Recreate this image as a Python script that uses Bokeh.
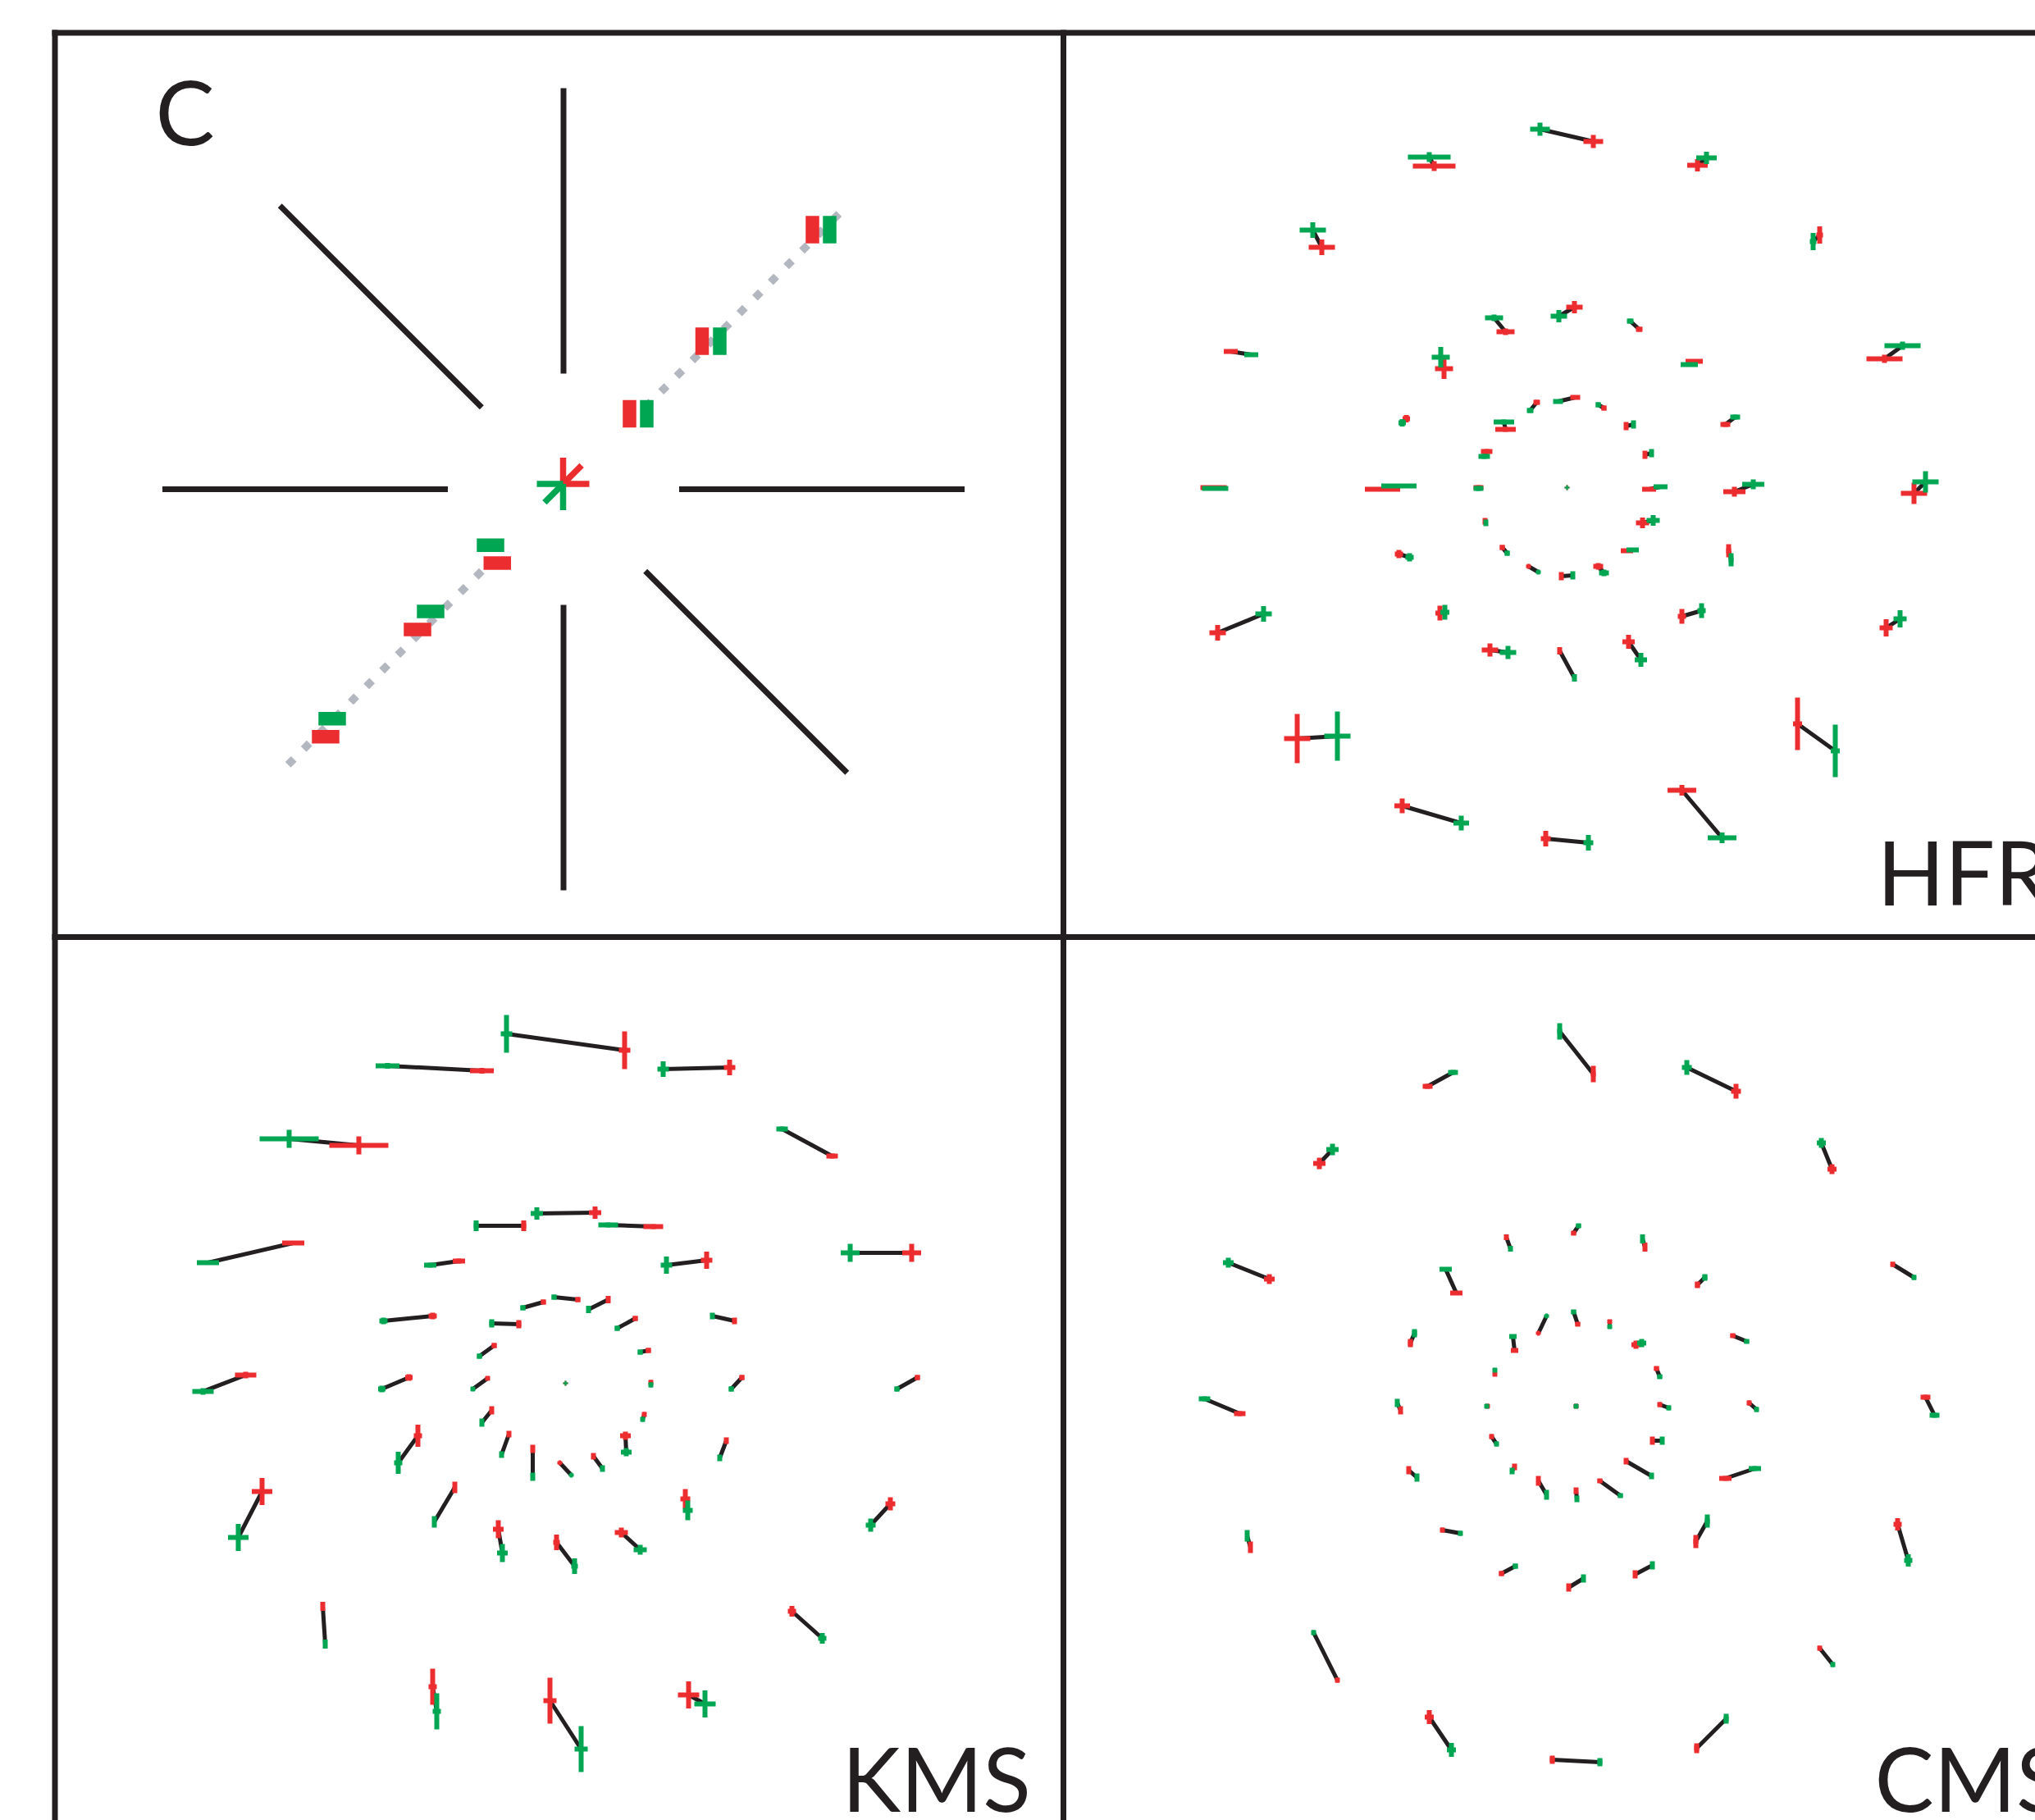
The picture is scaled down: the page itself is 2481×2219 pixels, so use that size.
import numpy as np
from bokeh.plotting import figure
from bokeh.models import Range1d
from bokeh.embed import file_html
from bokeh.resources import INLINE
from bokeh.core.properties import value

# ------------------------------------------------------------------ data
# Field points: offsets of the red and green image centroids from the
# field centre (display px, y pointing down) and the half sizes of the
# error crosses (x, y).
HFR_RED_X = [0, 32, -162, -299, -410, -75, -150, 9, -37, 10, -196, -75, -98, -431, -225, -108, -100, -205, -79, -47,
             -155, -426, -94, -329, -201, -26, 159, 308, 88, 155, 387, 45, 72, 95, 193, 100, 204, 423, 92, 73, 38, -7,
             197, 140, 75, -9, 389, 281, 140]
HFR_RED_Y = [0, -422, -392, -293, -166, -190, -145, -220, -104, -110, -84, -71, -44, 0, 2, 0, 41, 81, 73, 96, 153, 177,
             198, 306, 388, 428, -393, -308, -193, -154, -157, -97, -75, -40, -77, 2, 5, 7, 43, 77, 96, 108, 77, 157,
             188, 199, 171, 288, 369]
HFR_GRN_X = [0, -33, -168, -310, -385, -89, -154, -10, -45, -11, -201, -77, -101, -429, -205, -108, -99, -192, -73,
             -35, -149, -370, -72, -280, -129, 26, 170, 300, 77, 149, 409, 38, 81, 103, 205, 114, 227, 437, 105, 80,
             45, 7, 200, 164, 90, 9, 406, 327, 189]
HFR_GRN_Y = [0, -437, -403, -314, -162, -207, -159, -209, -94, -105, -79, -80, -38, 1, -2, 1, 43, 85, 80, 103, 152,
             154, 201, 303, 409, 433, -402, -300, -203, -150, -173, -101, -77, -42, -86, -1, -4, -7, 40, 76, 104, 107,
             88, 150, 210, 232, 160, 321, 427]
HFR_ERR_X = [1, 12, 26, 16, 8.5, 11, 11, 10, 4, 6, 4.5, 12.5, 7, 16, 21.5, 6, 2.5, 5, 3, 2, 5.5, 10, 10, 16, 9.5, 6,
             12.5, 4, 4, 10.5, 22, 3, 2, 2, 6, 8.5, 13.5, 16, 8, 7.5, 6, 2.5, 3, 5, 7.5, 2, 8, 5.5, 17.5]
HFR_ERR_Y = [1, 8, 6, 9.5, 2.5, 4, 12.5, 7.5, 3, 2.5, 4.5, 3, 3, 2.5, 2.5, 3, 4, 5, 3, 2, 9, 9.5, 8, 30, 9, 9.5, 7.5,
             10.5, 3, 2.5, 5, 3, 5, 5, 3, 2.5, 6, 13, 6.5, 2.5, 4, 5, 8, 9, 8.5, 4.5, 10.5, 32, 6.5]

KMS_RED_X = [0, 72, -102, -252, -332, -51, 36, 107, 172, 422, 325, 200, -130, -162, -57, -27, 15, 52, 85, 206, 101,
             -87, -95, -191, -390, 215, 429, 104, -90, 96, -180, -69, -40, -7, 34, 73, 196, -370, -135, -82, -11, 68,
             146, 396, -296, 276, -162, -19, 150]
KMS_RED_Y = [0, -406, -381, -290, -171, -192, -208, -191, -150, -159, -277, -385, -149, -82, -72, -99, -102, -102, -79,
             -76, -40, -46, -6, -7, -10, -7, -7, -1, 33, 38, 64, 62, 80, 97, 89, 64, 70, 132, 127, 178, 194, 182, 141,
             147, 272, 278, 370, 387, 380]
KMS_GRN_X = [0, -72, -217, -337, -436, -109, -35, 52, 123, 347, 264, 119, -165, -222, -90, -52, -14, 28, 63, 179, 91,
             -105, -113, -224, -442, 202, 404, 104, -102, 94, -204, -78, -40, 7, 45, 74, 188, -399, -160, -77, 11, 91,
             149, 372, -293, 313, -157, 19, 170]
KMS_GRN_Y = [0, -426, -387, -298, -147, -192, -207, -193, -144, -159, -310, -383, -144, -76, -73, -92, -105, -90, -67,
             -82, -38, -33, 7, 7, 10, 7, 7, 2, 48, 44, 97, 87, 114, 112, 104, 84, 91, 188, 169, 207, 223, 203, 155, 173,
             318, 311, 400, 446, 391]
KMS_ERR_X = [1, 7, 14.5, 36, 13.5, 3, 7.5, 12, 7, 11.5, 7, 7, 7.5, 5, 3, 3, 3, 2.5, 3, 2.5, 3, 3, 2.5, 4.5, 13, 3, 3,
             2, 2, 1.5, 5, 1.5, 1.5, 1.5, 2, 6.5, 2, 12.5, 2, 6.5, 4, 8, 6, 6, 2, 5, 5, 8, 13]
KMS_ERR_Y = [1, 23, 3.5, 11, 2.5, 6.5, 7.5, 3, 10.5, 11, 3, 9.5, 3, 4, 5, 3, 3, 4.5, 3, 4, 3, 3, 2.5, 4, 4, 3, 3, 3, 5,
             3, 13.5, 4, 5, 2, 4, 5, 4, 16.5, 7, 11, 9.5, 6, 12, 8, 5.5, 6.5, 22, 28, 16.5]

CMS_RED_X = [-181, -313, -374, -85, -146, -202, -75, -46, -99, 21, 195, 312, -3, 84, 148, 386, 2, 41, 73, 191, 98,
             -410, -214, -108, 0, 102, 211, 426, -103, 93, -204, -75, -46, 0, 29, 61, 182, -397, -163, 146, 392, -91,
             -9, 72, -291, 297, -179, -29, 147]
CMS_RED_Y = [-390, -296, -155, -206, -138, -77, -68, -89, -39, -405, -384, -289, -211, -194, -148, -173, -100, -103,
             -75, -86, -46, 9, 5, 0, 0, -2, -4, -11, 37, 42, 78, 74, 91, 103, 91, 67, 88, 172, 151, 165, 144, 204, 221,
             205, 334, 295, 379, 431, 417]
CMS_GRN_X = [-150, -297, -424, -80, -159, -197, -77, -36, -99, -20, 135, 299, 3, 81, 157, 412, -3, 41, 80, 208, 102,
             -453, -218, -109, 0, 113, 220, 437, -97, 105, -194, -78, -36, 1, 54, 92, 218, -401, -141, 160, 405, -74, 9,
             93, -320, 313, -152, 29, 183]
CMS_GRN_Y = [-407, -313, -175, -192, -167, -89, -85, -110, -44, -457, -413, -321, -220, -204, -157, -157, -115, -97,
             -77, -79, -36, -9, -4, 0, 0, 2, 4, 11, 46, 42, 87, 79, 108, 113, 109, 85, 76, 158, 155, 140, 188, 195, 210,
             194, 276, 315, 419, 434, 381]
CMS_ERR_X = [6, 7.5, 6.5, 2, 7.5, 3, 4.5, 1.5, 2.5, 3, 6, 5.5, 3, 2, 3, 2.5, 3, 2.5, 5.5, 3, 3, 7, 2.5, 2.5, 2.5, 2, 2,
             6, 2, 2, 2.5, 1.5, 2, 2.5, 3, 2, 7.5, 2.5, 2, 3, 5, 3, 2, 2, 2, 2, 5.5, 3, 3]
CMS_ERR_Y = [3, 7, 6, 3.5, 2.5, 5, 2.5, 2, 2.5, 10, 9, 6, 2.5, 5.5, 4, 3, 2.5, 2.5, 5, 2.5, 2.5, 3, 5, 2.5, 2.5, 3, 3,
             3, 3, 5, 5, 4, 6, 4, 2.5, 4, 3, 7, 3, 8, 7.5, 3, 5, 5, 3, 3, 8.5, 5, 6]

# Key panel "C": bar pairs along the two diagonals (offsets from key centre)
C_VBAR_RED_X = [80.5, 169, 303.5]
C_VBAR_RED_Y = [-92, -180.5, -316.5]
C_VBAR_GRN_X = [101.5, 190.5, 324.5]
C_VBAR_GRN_Y = [-92, -180.5, -316.5]
C_HBAR_RED_X = [-80.7, -178, -290]
C_HBAR_RED_Y = [89.9, 171, 301.7]
C_HBAR_GRN_X = [-89, -162, -282]
C_HBAR_GRN_Y = [68.3, 149, 279.7]
C_STAR_RED_ANGLES = [90, 0, 45]        # degrees, counter-clockwise from east
C_STAR_GRN_ANGLES = [180, 270, 225]
C_RADIAL_ANGLES = [0, 45, 90, 135, 180, 225, 270, 315]
C_RADIAL_DOTTED = [False, True, False, False, False, True, False, False]

PANEL_LABELS = ["C", "HFR", "KMS", "CMS"]

# ---------------------------------------------------------------- layout
W, H = 2481, 2219
RED, GREEN, BLACK, GREY = "#EC2D30", "#00A651", "#231F20", "#B3B7BF"
BORDER_XS = [66.5, 1296]
BORDER_YS = [39.5, 1142]
BORDER_W = 7
FIELD_CENTRES = {"HFR": (1910, 594), "KMS": (689, 1686), "CMS": (1921, 1714)}
KEY_CENTRE = (686.5, 596)
STAR_SHIFT = (-0.5, -6.5)
RADIAL_R = (141, 489)
STAR_ARM = 32
BAR_LONG, BAR_SHORT = 33.5, 16.5
LABEL_POS = {"C": (189, 134), "HFR": (2288, 1061), "KMS": (1026, 2166), "CMS": (2285, 2166)}
LABEL_SIZE = "108px"
CROSS_W, LINK_W = 6, 5

p = figure(width=W, height=H, x_range=Range1d(0, W), y_range=Range1d(H, 0),
           output_backend="svg", toolbar_location=None, min_border=0,
           x_axis_location=None, y_axis_location=None)
p.grid.grid_line_color = None
p.outline_line_color = None
p.background_fill_color = "white"
p.border_fill_color = "white"

# panel frame lines
top, bottom = BORDER_YS[0] - BORDER_W / 2, H + 10
left, right = BORDER_XS[0] - BORDER_W / 2, W + 10
p.segment(x0=BORDER_XS, y0=[top] * 2, x1=BORDER_XS, y1=[bottom] * 2, line_color=BLACK, line_width=BORDER_W)
p.segment(x0=[left] * 2, y0=BORDER_YS, x1=[right] * 2, y1=BORDER_YS, line_color=BLACK, line_width=BORDER_W)

# key panel
kx, ky = KEY_CENTRE
ang = np.radians(C_RADIAL_ANGLES)
dotted = np.array(C_RADIAL_DOTTED)
r0, r1 = RADIAL_R
x0 = kx + r0 * np.cos(ang); y0 = ky - r0 * np.sin(ang)
x1 = kx + r1 * np.cos(ang); y1 = ky - r1 * np.sin(ang)
p.segment(x0[~dotted], y0[~dotted], x1[~dotted], y1[~dotted], line_color=BLACK, line_width=7)
p.segment(x0[dotted], y0[dotted], x1[dotted], y1[dotted], line_color=GREY, line_width=9.5, line_dash="10 17")

p.rect(kx + np.array(C_VBAR_RED_X), ky + np.array(C_VBAR_RED_Y), width=BAR_SHORT, height=BAR_LONG,
       fill_color=RED, line_color=None)
p.rect(kx + np.array(C_VBAR_GRN_X), ky + np.array(C_VBAR_GRN_Y), width=BAR_SHORT, height=BAR_LONG,
       fill_color=GREEN, line_color=None)
p.rect(kx + np.array(C_HBAR_GRN_X), ky + np.array(C_HBAR_GRN_Y), width=BAR_LONG, height=BAR_SHORT,
       fill_color=GREEN, line_color=None)
p.rect(kx + np.array(C_HBAR_RED_X), ky + np.array(C_HBAR_RED_Y), width=BAR_LONG, height=BAR_SHORT,
       fill_color=RED, line_color=None)

sx, sy = kx + STAR_SHIFT[0], ky + STAR_SHIFT[1]
for angles, col in ((C_STAR_RED_ANGLES, RED), (C_STAR_GRN_ANGLES, GREEN)):
    a = np.radians(angles)
    p.segment([sx] * len(a), [sy] * len(a), sx + STAR_ARM * np.cos(a), sy - STAR_ARM * np.sin(a),
              line_color=col, line_width=7.5)


def add_field(name, rx, ry, gx, gy, ex, ey):
    cx, cy = FIELD_CENTRES[name]
    rx = cx + np.asarray(rx, float); ry = cy + np.asarray(ry, float)
    gx = cx + np.asarray(gx, float); gy = cy + np.asarray(gy, float)
    ex = np.asarray(ex, float); ey = np.asarray(ey, float)
    p.segment(rx, ry, gx, gy, line_color=BLACK, line_width=LINK_W)
    for x, y, col in ((rx, ry, RED), (gx, gy, GREEN)):
        p.segment(x - ex, y, x + ex, y, line_color=col, line_width=CROSS_W)
        p.segment(x, y - ey, x, y + ey, line_color=col, line_width=CROSS_W)


add_field("HFR", HFR_RED_X, HFR_RED_Y, HFR_GRN_X, HFR_GRN_Y, HFR_ERR_X, HFR_ERR_Y)
add_field("KMS", KMS_RED_X, KMS_RED_Y, KMS_GRN_X, KMS_GRN_Y, KMS_ERR_X, KMS_ERR_Y)
add_field("CMS", CMS_RED_X, CMS_RED_Y, CMS_GRN_X, CMS_GRN_Y, CMS_ERR_X, CMS_ERR_Y)

p.text(x=[LABEL_POS[k][0] for k in PANEL_LABELS], y=[LABEL_POS[k][1] for k in PANEL_LABELS],
       text=PANEL_LABELS, text_font=value("Lato"), text_font_size=LABEL_SIZE, text_color=BLACK,
       text_baseline="alphabetic", text_align="left")

with open("out.html", "w") as f:
    f.write(file_html(p, INLINE))
